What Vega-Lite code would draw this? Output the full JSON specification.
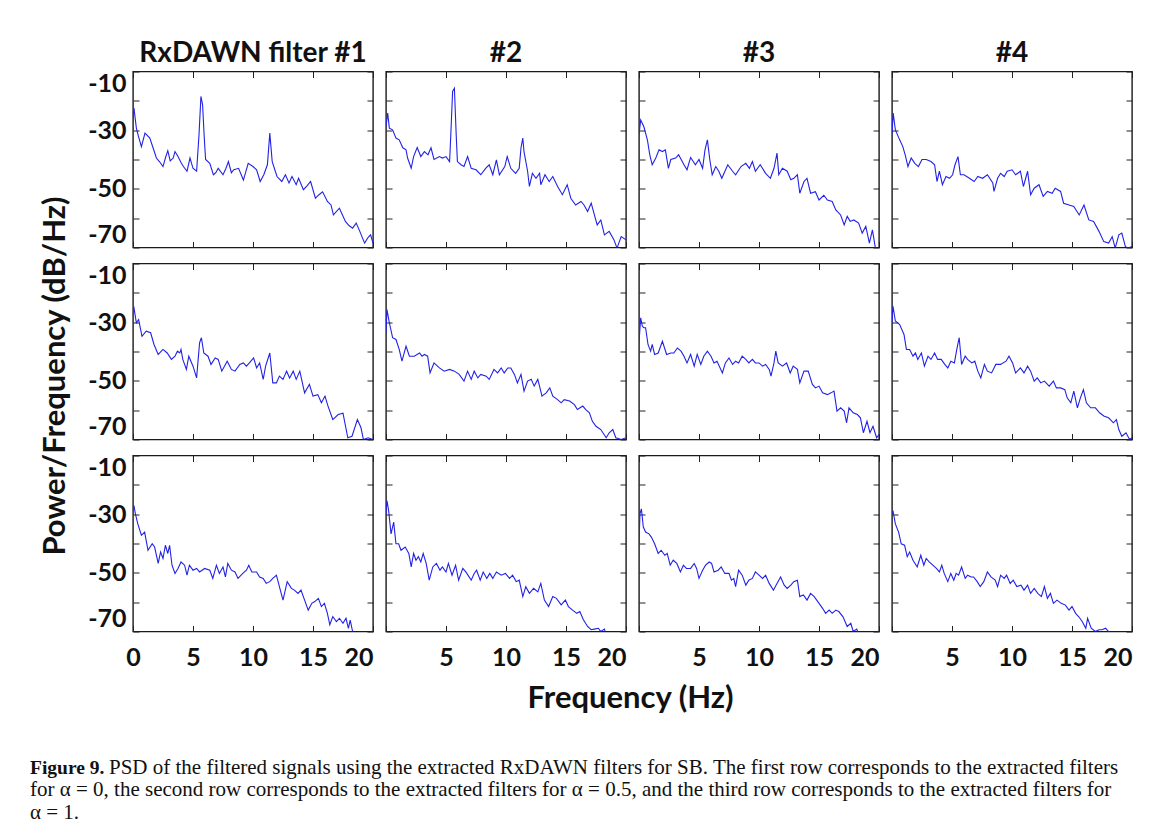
{
"$schema": "https://vega.github.io/schema/vega-lite/v6.json",
"background": "white",
"padding": {"left": 30, "top": 38.5, "right": 5, "bottom": 0},
"data": {"values": [
{"r":1,"c":1,"f":0,"v":-25.9},{"r":1,"c":1,"f":0.08,"v":-22.5},{"r":1,"c":1,"f":0.28,"v":-29.3},{"r":1,"c":1,"f":0.45,"v":-32},{"r":1,"c":1,"f":0.7,"v":-35.6},{"r":1,"c":1,"f":1.0,"v":-31},{"r":1,"c":1,"f":1.4,"v":-32.7},{"r":1,"c":1,"f":1.67,"v":-36},{"r":1,"c":1,"f":1.95,"v":-39.5},{"r":1,"c":1,"f":2.2,"v":-40.7},{"r":1,"c":1,"f":2.5,"v":-42.4},{"r":1,"c":1,"f":2.7,"v":-39.5},{"r":1,"c":1,"f":2.9,"v":-37},{"r":1,"c":1,"f":3.1,"v":-40.5},{"r":1,"c":1,"f":3.35,"v":-39.5},{"r":1,"c":1,"f":3.5,"v":-37.3},{"r":1,"c":1,"f":3.75,"v":-39},{"r":1,"c":1,"f":4.0,"v":-41},{"r":1,"c":1,"f":4.2,"v":-42.4},{"r":1,"c":1,"f":4.5,"v":-44},{"r":1,"c":1,"f":4.75,"v":-39.5},{"r":1,"c":1,"f":5.0,"v":-43},{"r":1,"c":1,"f":5.3,"v":-44},{"r":1,"c":1,"f":5.5,"v":-31.6},{"r":1,"c":1,"f":5.66,"v":-18.5},{"r":1,"c":1,"f":5.8,"v":-21.4},{"r":1,"c":1,"f":5.94,"v":-32.7},{"r":1,"c":1,"f":6.05,"v":-40},{"r":1,"c":1,"f":6.4,"v":-41.3},{"r":1,"c":1,"f":6.7,"v":-45.2},{"r":1,"c":1,"f":6.9,"v":-44.5},{"r":1,"c":1,"f":7.1,"v":-43},{"r":1,"c":1,"f":7.5,"v":-45.2},{"r":1,"c":1,"f":7.75,"v":-43},{"r":1,"c":1,"f":7.95,"v":-40.7},{"r":1,"c":1,"f":8.2,"v":-44.5},{"r":1,"c":1,"f":8.4,"v":-43.5},{"r":1,"c":1,"f":8.8,"v":-43},{"r":1,"c":1,"f":9.2,"v":-47},{"r":1,"c":1,"f":9.6,"v":-41.3},{"r":1,"c":1,"f":10.0,"v":-42.4},{"r":1,"c":1,"f":10.3,"v":-43.5},{"r":1,"c":1,"f":10.6,"v":-47.5},{"r":1,"c":1,"f":10.9,"v":-45.2},{"r":1,"c":1,"f":11.2,"v":-41.8},{"r":1,"c":1,"f":11.4,"v":-31},{"r":1,"c":1,"f":11.6,"v":-40.7},{"r":1,"c":1,"f":12.0,"v":-45.8},{"r":1,"c":1,"f":12.4,"v":-47.5},{"r":1,"c":1,"f":12.7,"v":-45.2},{"r":1,"c":1,"f":13.0,"v":-48},{"r":1,"c":1,"f":13.25,"v":-45.8},{"r":1,"c":1,"f":13.6,"v":-48.6},{"r":1,"c":1,"f":13.8,"v":-46.4},{"r":1,"c":1,"f":14.2,"v":-50.3},{"r":1,"c":1,"f":14.5,"v":-49},{"r":1,"c":1,"f":14.8,"v":-47.5},{"r":1,"c":1,"f":15.2,"v":-53.2},{"r":1,"c":1,"f":15.5,"v":-52},{"r":1,"c":1,"f":15.8,"v":-51},{"r":1,"c":1,"f":16.2,"v":-54.3},{"r":1,"c":1,"f":16.5,"v":-55.5},{"r":1,"c":1,"f":16.7,"v":-58.9},{"r":1,"c":1,"f":17.2,"v":-56.6},{"r":1,"c":1,"f":17.7,"v":-61.1},{"r":1,"c":1,"f":18.0,"v":-62.5},{"r":1,"c":1,"f":18.3,"v":-63.4},{"r":1,"c":1,"f":18.6,"v":-61.7},{"r":1,"c":1,"f":18.9,"v":-64.5},{"r":1,"c":1,"f":19.3,"v":-68.5},{"r":1,"c":1,"f":19.6,"v":-66.5},{"r":1,"c":1,"f":19.8,"v":-65.7},{"r":1,"c":1,"f":20,"v":-68.5},

{"r":1,"c":2,"f":0,"v":-28.7},{"r":1,"c":2,"f":0.14,"v":-24.2},{"r":1,"c":2,"f":0.28,"v":-29.3},{"r":1,"c":2,"f":0.55,"v":-29.9},{"r":1,"c":2,"f":0.83,"v":-32.7},{"r":1,"c":2,"f":1.1,"v":-33.3},{"r":1,"c":2,"f":1.4,"v":-36},{"r":1,"c":2,"f":1.67,"v":-36.7},{"r":1,"c":2,"f":1.8,"v":-39.5},{"r":1,"c":2,"f":2.1,"v":-43},{"r":1,"c":2,"f":2.3,"v":-39},{"r":1,"c":2,"f":2.6,"v":-35.9},{"r":1,"c":2,"f":2.9,"v":-39},{"r":1,"c":2,"f":3.2,"v":-37.3},{"r":1,"c":2,"f":3.5,"v":-38.4},{"r":1,"c":2,"f":3.75,"v":-36},{"r":1,"c":2,"f":4.0,"v":-40},{"r":1,"c":2,"f":4.45,"v":-39},{"r":1,"c":2,"f":4.7,"v":-39.5},{"r":1,"c":2,"f":5.0,"v":-39},{"r":1,"c":2,"f":5.3,"v":-40.7},{"r":1,"c":2,"f":5.4,"v":-31.6},{"r":1,"c":2,"f":5.55,"v":-16.8},{"r":1,"c":2,"f":5.7,"v":-15.7},{"r":1,"c":2,"f":5.85,"v":-31.6},{"r":1,"c":2,"f":5.95,"v":-40.7},{"r":1,"c":2,"f":6.25,"v":-41.8},{"r":1,"c":2,"f":6.5,"v":-42.4},{"r":1,"c":2,"f":6.8,"v":-39},{"r":1,"c":2,"f":7.1,"v":-43},{"r":1,"c":2,"f":7.5,"v":-43.5},{"r":1,"c":2,"f":7.9,"v":-45.2},{"r":1,"c":2,"f":8.3,"v":-43},{"r":1,"c":2,"f":8.6,"v":-41.8},{"r":1,"c":2,"f":8.9,"v":-45.2},{"r":1,"c":2,"f":9.2,"v":-40.1},{"r":1,"c":2,"f":9.45,"v":-45.2},{"r":1,"c":2,"f":9.9,"v":-42.4},{"r":1,"c":2,"f":10.1,"v":-39},{"r":1,"c":2,"f":10.4,"v":-43},{"r":1,"c":2,"f":10.8,"v":-44.7},{"r":1,"c":2,"f":11.1,"v":-43},{"r":1,"c":2,"f":11.25,"v":-36},{"r":1,"c":2,"f":11.4,"v":-32.7},{"r":1,"c":2,"f":11.5,"v":-37.3},{"r":1,"c":2,"f":11.8,"v":-44},{"r":1,"c":2,"f":11.95,"v":-49.2},{"r":1,"c":2,"f":12.2,"v":-44.7},{"r":1,"c":2,"f":12.5,"v":-46.4},{"r":1,"c":2,"f":12.8,"v":-44.7},{"r":1,"c":2,"f":12.9,"v":-48.6},{"r":1,"c":2,"f":13.25,"v":-45.2},{"r":1,"c":2,"f":13.6,"v":-47.5},{"r":1,"c":2,"f":13.9,"v":-45.8},{"r":1,"c":2,"f":14.3,"v":-49.2},{"r":1,"c":2,"f":14.7,"v":-52},{"r":1,"c":2,"f":15.1,"v":-48.6},{"r":1,"c":2,"f":15.4,"v":-53.2},{"r":1,"c":2,"f":15.8,"v":-55.5},{"r":1,"c":2,"f":16.25,"v":-54.3},{"r":1,"c":2,"f":16.5,"v":-55.5},{"r":1,"c":2,"f":16.8,"v":-57.7},{"r":1,"c":2,"f":17.1,"v":-54.9},{"r":1,"c":2,"f":17.4,"v":-59.4},{"r":1,"c":2,"f":17.6,"v":-62.3},{"r":1,"c":2,"f":17.9,"v":-60.6},{"r":1,"c":2,"f":18.2,"v":-65.7},{"r":1,"c":2,"f":18.6,"v":-64.5},{"r":1,"c":2,"f":19.0,"v":-67.4},{"r":1,"c":2,"f":19.25,"v":-70.2},{"r":1,"c":2,"f":19.6,"v":-66.3},{"r":1,"c":2,"f":20,"v":-67.4},

{"r":1,"c":3,"f":0,"v":-31.6},{"r":1,"c":3,"f":0.14,"v":-26.5},{"r":1,"c":3,"f":0.4,"v":-28.75},{"r":1,"c":3,"f":0.7,"v":-33.3},{"r":1,"c":3,"f":0.9,"v":-38.4},{"r":1,"c":3,"f":1.1,"v":-41.8},{"r":1,"c":3,"f":1.4,"v":-39.5},{"r":1,"c":3,"f":1.67,"v":-36.7},{"r":1,"c":3,"f":1.95,"v":-37.3},{"r":1,"c":3,"f":2.2,"v":-36.7},{"r":1,"c":3,"f":2.45,"v":-43},{"r":1,"c":3,"f":2.65,"v":-40},{"r":1,"c":3,"f":3.05,"v":-39.5},{"r":1,"c":3,"f":3.3,"v":-38.4},{"r":1,"c":3,"f":3.75,"v":-41.8},{"r":1,"c":3,"f":4.0,"v":-43.5},{"r":1,"c":3,"f":4.3,"v":-39.3},{"r":1,"c":3,"f":4.7,"v":-41.8},{"r":1,"c":3,"f":5.0,"v":-40},{"r":1,"c":3,"f":5.3,"v":-43},{"r":1,"c":3,"f":5.5,"v":-36.7},{"r":1,"c":3,"f":5.7,"v":-33.3},{"r":1,"c":3,"f":5.9,"v":-40},{"r":1,"c":3,"f":6.1,"v":-45.2},{"r":1,"c":3,"f":6.4,"v":-42.4},{"r":1,"c":3,"f":6.65,"v":-44},{"r":1,"c":3,"f":6.9,"v":-46.4},{"r":1,"c":3,"f":7.4,"v":-41.8},{"r":1,"c":3,"f":7.8,"v":-44},{"r":1,"c":3,"f":8.05,"v":-45.2},{"r":1,"c":3,"f":8.5,"v":-42.4},{"r":1,"c":3,"f":8.9,"v":-41.3},{"r":1,"c":3,"f":9.2,"v":-43},{"r":1,"c":3,"f":9.45,"v":-40.7},{"r":1,"c":3,"f":9.7,"v":-44},{"r":1,"c":3,"f":10.1,"v":-41.8},{"r":1,"c":3,"f":10.55,"v":-44.7},{"r":1,"c":3,"f":10.95,"v":-46.4},{"r":1,"c":3,"f":11.25,"v":-43},{"r":1,"c":3,"f":11.5,"v":-37.8},{"r":1,"c":3,"f":11.65,"v":-45.2},{"r":1,"c":3,"f":11.95,"v":-43},{"r":1,"c":3,"f":12.35,"v":-44},{"r":1,"c":3,"f":12.65,"v":-46.9},{"r":1,"c":3,"f":12.9,"v":-46.4},{"r":1,"c":3,"f":13.2,"v":-45.2},{"r":1,"c":3,"f":13.4,"v":-51.5},{"r":1,"c":3,"f":13.75,"v":-47.5},{"r":1,"c":3,"f":14.0,"v":-46.4},{"r":1,"c":3,"f":14.3,"v":-51.5},{"r":1,"c":3,"f":14.7,"v":-51},{"r":1,"c":3,"f":15.0,"v":-53.8},{"r":1,"c":3,"f":15.4,"v":-52.2},{"r":1,"c":3,"f":15.7,"v":-53.8},{"r":1,"c":3,"f":16.1,"v":-54.3},{"r":1,"c":3,"f":16.4,"v":-57.2},{"r":1,"c":3,"f":16.8,"v":-58.9},{"r":1,"c":3,"f":17.1,"v":-62.3},{"r":1,"c":3,"f":17.35,"v":-59.4},{"r":1,"c":3,"f":17.6,"v":-61.1},{"r":1,"c":3,"f":17.9,"v":-60.6},{"r":1,"c":3,"f":18.3,"v":-61.7},{"r":1,"c":3,"f":18.6,"v":-65.1},{"r":1,"c":3,"f":18.9,"v":-62.8},{"r":1,"c":3,"f":19.2,"v":-68.5},{"r":1,"c":3,"f":19.45,"v":-64},{"r":1,"c":3,"f":19.7,"v":-70.2},{"r":1,"c":3,"f":20,"v":-71},

{"r":1,"c":4,"f":0,"v":-31},{"r":1,"c":4,"f":0.1,"v":-24.2},{"r":1,"c":4,"f":0.28,"v":-29.9},{"r":1,"c":4,"f":0.64,"v":-33.3},{"r":1,"c":4,"f":0.9,"v":-35.6},{"r":1,"c":4,"f":1.1,"v":-38.4},{"r":1,"c":4,"f":1.33,"v":-42.4},{"r":1,"c":4,"f":1.6,"v":-39.5},{"r":1,"c":4,"f":1.9,"v":-41.3},{"r":1,"c":4,"f":2.2,"v":-42.4},{"r":1,"c":4,"f":2.5,"v":-40},{"r":1,"c":4,"f":2.85,"v":-40},{"r":1,"c":4,"f":3.25,"v":-40.7},{"r":1,"c":4,"f":3.55,"v":-41.8},{"r":1,"c":4,"f":3.75,"v":-47.5},{"r":1,"c":4,"f":3.95,"v":-44},{"r":1,"c":4,"f":4.2,"v":-48.6},{"r":1,"c":4,"f":4.5,"v":-45.8},{"r":1,"c":4,"f":4.8,"v":-46.4},{"r":1,"c":4,"f":5.05,"v":-45.2},{"r":1,"c":4,"f":5.25,"v":-41.8},{"r":1,"c":4,"f":5.5,"v":-39},{"r":1,"c":4,"f":5.7,"v":-45.2},{"r":1,"c":4,"f":6.0,"v":-45.2},{"r":1,"c":4,"f":6.45,"v":-46.4},{"r":1,"c":4,"f":6.85,"v":-47.5},{"r":1,"c":4,"f":7.15,"v":-45.8},{"r":1,"c":4,"f":7.55,"v":-46.4},{"r":1,"c":4,"f":7.95,"v":-45.2},{"r":1,"c":4,"f":8.4,"v":-48},{"r":1,"c":4,"f":8.5,"v":-50.9},{"r":1,"c":4,"f":8.8,"v":-46.4},{"r":1,"c":4,"f":9.05,"v":-44.7},{"r":1,"c":4,"f":9.35,"v":-45.8},{"r":1,"c":4,"f":9.6,"v":-44},{"r":1,"c":4,"f":10.0,"v":-43.5},{"r":1,"c":4,"f":10.3,"v":-45.2},{"r":1,"c":4,"f":10.7,"v":-44},{"r":1,"c":4,"f":10.95,"v":-49.2},{"r":1,"c":4,"f":11.3,"v":-44},{"r":1,"c":4,"f":11.55,"v":-52},{"r":1,"c":4,"f":11.85,"v":-49.8},{"r":1,"c":4,"f":12.25,"v":-48.6},{"r":1,"c":4,"f":12.6,"v":-52.6},{"r":1,"c":4,"f":12.95,"v":-50.9},{"r":1,"c":4,"f":13.35,"v":-51.5},{"r":1,"c":4,"f":13.6,"v":-49.8},{"r":1,"c":4,"f":14.05,"v":-50.9},{"r":1,"c":4,"f":14.3,"v":-54.9},{"r":1,"c":4,"f":14.75,"v":-55.5},{"r":1,"c":4,"f":15.15,"v":-56},{"r":1,"c":4,"f":15.6,"v":-58.9},{"r":1,"c":4,"f":16.0,"v":-55.5},{"r":1,"c":4,"f":16.4,"v":-60.6},{"r":1,"c":4,"f":16.8,"v":-61.1},{"r":1,"c":4,"f":17.25,"v":-64.5},{"r":1,"c":4,"f":17.65,"v":-68},{"r":1,"c":4,"f":18.05,"v":-68.5},{"r":1,"c":4,"f":18.35,"v":-66.3},{"r":1,"c":4,"f":18.6,"v":-70.2},{"r":1,"c":4,"f":18.9,"v":-65.7},{"r":1,"c":4,"f":19.15,"v":-65.1},{"r":1,"c":4,"f":19.45,"v":-69.7},{"r":1,"c":4,"f":19.7,"v":-70.2},{"r":1,"c":4,"f":20,"v":-69.7},

{"r":2,"c":1,"f":0,"v":-25.7},{"r":2,"c":1,"f":0.08,"v":-25.1},{"r":2,"c":1,"f":0.28,"v":-30.2},{"r":2,"c":1,"f":0.47,"v":-29.1},{"r":2,"c":1,"f":0.75,"v":-34.8},{"r":2,"c":1,"f":1.1,"v":-33.1},{"r":2,"c":1,"f":1.47,"v":-33.6},{"r":2,"c":1,"f":1.75,"v":-37.6},{"r":2,"c":1,"f":2.1,"v":-41},{"r":2,"c":1,"f":2.5,"v":-39.3},{"r":2,"c":1,"f":2.85,"v":-40.5},{"r":2,"c":1,"f":3.2,"v":-42.7},{"r":2,"c":1,"f":3.5,"v":-41.6},{"r":2,"c":1,"f":3.7,"v":-39.9},{"r":2,"c":1,"f":3.9,"v":-40.5},{"r":2,"c":1,"f":4.0,"v":-39.3},{"r":2,"c":1,"f":4.15,"v":-42.7},{"r":2,"c":1,"f":4.45,"v":-46.1},{"r":2,"c":1,"f":4.65,"v":-41.6},{"r":2,"c":1,"f":5.0,"v":-45},{"r":2,"c":1,"f":5.3,"v":-49},{"r":2,"c":1,"f":5.55,"v":-37},{"r":2,"c":1,"f":5.7,"v":-35.3},{"r":2,"c":1,"f":5.9,"v":-40.5},{"r":2,"c":1,"f":6.25,"v":-41.6},{"r":2,"c":1,"f":6.5,"v":-44.4},{"r":2,"c":1,"f":6.85,"v":-42.2},{"r":2,"c":1,"f":7.1,"v":-42.7},{"r":2,"c":1,"f":7.4,"v":-46.7},{"r":2,"c":1,"f":7.85,"v":-43.3},{"r":2,"c":1,"f":8.2,"v":-46.1},{"r":2,"c":1,"f":8.5,"v":-46.7},{"r":2,"c":1,"f":8.9,"v":-44.4},{"r":2,"c":1,"f":9.2,"v":-43.9},{"r":2,"c":1,"f":9.45,"v":-45},{"r":2,"c":1,"f":9.7,"v":-43.9},{"r":2,"c":1,"f":10.05,"v":-42.2},{"r":2,"c":1,"f":10.3,"v":-45.6},{"r":2,"c":1,"f":10.55,"v":-43.9},{"r":2,"c":1,"f":10.85,"v":-49.5},{"r":2,"c":1,"f":11.05,"v":-45},{"r":2,"c":1,"f":11.4,"v":-40.5},{"r":2,"c":1,"f":11.65,"v":-50.7},{"r":2,"c":1,"f":11.95,"v":-50.7},{"r":2,"c":1,"f":12.2,"v":-48.4},{"r":2,"c":1,"f":12.5,"v":-49.5},{"r":2,"c":1,"f":12.8,"v":-46.7},{"r":2,"c":1,"f":13.05,"v":-49},{"r":2,"c":1,"f":13.35,"v":-46.7},{"r":2,"c":1,"f":13.6,"v":-49.5},{"r":2,"c":1,"f":13.9,"v":-46.7},{"r":2,"c":1,"f":14.3,"v":-54.1},{"r":2,"c":1,"f":14.7,"v":-51.2},{"r":2,"c":1,"f":15.0,"v":-55.2},{"r":2,"c":1,"f":15.4,"v":-54.7},{"r":2,"c":1,"f":15.7,"v":-57.5},{"r":2,"c":1,"f":16.0,"v":-55.2},{"r":2,"c":1,"f":16.25,"v":-58.6},{"r":2,"c":1,"f":16.65,"v":-63.2},{"r":2,"c":1,"f":17.1,"v":-61.5},{"r":2,"c":1,"f":17.5,"v":-61},{"r":2,"c":1,"f":17.9,"v":-69.4},{"r":2,"c":1,"f":18.25,"v":-68.9},{"r":2,"c":1,"f":18.7,"v":-63.2},{"r":2,"c":1,"f":19.0,"v":-66},{"r":2,"c":1,"f":19.2,"v":-70},{"r":2,"c":1,"f":19.6,"v":-69.4},{"r":2,"c":1,"f":20,"v":-70},

{"r":2,"c":2,"f":0,"v":-33.6},{"r":2,"c":2,"f":0.08,"v":-25.7},{"r":2,"c":2,"f":0.28,"v":-30.2},{"r":2,"c":2,"f":0.55,"v":-35.3},{"r":2,"c":2,"f":0.83,"v":-35.9},{"r":2,"c":2,"f":1.1,"v":-39.3},{"r":2,"c":2,"f":1.33,"v":-43.3},{"r":2,"c":2,"f":1.67,"v":-38.2},{"r":2,"c":2,"f":1.95,"v":-41.6},{"r":2,"c":2,"f":2.35,"v":-41.6},{"r":2,"c":2,"f":2.8,"v":-40.5},{"r":2,"c":2,"f":3.0,"v":-41.6},{"r":2,"c":2,"f":3.2,"v":-41},{"r":2,"c":2,"f":3.47,"v":-41.6},{"r":2,"c":2,"f":3.67,"v":-47.3},{"r":2,"c":2,"f":4.0,"v":-43.9},{"r":2,"c":2,"f":4.45,"v":-45.6},{"r":2,"c":2,"f":4.85,"v":-46.7},{"r":2,"c":2,"f":5.3,"v":-46.1},{"r":2,"c":2,"f":5.7,"v":-46.7},{"r":2,"c":2,"f":6.1,"v":-47.8},{"r":2,"c":2,"f":6.5,"v":-50.1},{"r":2,"c":2,"f":6.8,"v":-46.7},{"r":2,"c":2,"f":7.1,"v":-49.5},{"r":2,"c":2,"f":7.35,"v":-46.7},{"r":2,"c":2,"f":7.65,"v":-49},{"r":2,"c":2,"f":7.9,"v":-47.8},{"r":2,"c":2,"f":8.35,"v":-48.4},{"r":2,"c":2,"f":8.6,"v":-49.5},{"r":2,"c":2,"f":9.0,"v":-46.1},{"r":2,"c":2,"f":9.3,"v":-47.3},{"r":2,"c":2,"f":9.6,"v":-45.6},{"r":2,"c":2,"f":9.85,"v":-47.3},{"r":2,"c":2,"f":10.15,"v":-45.6},{"r":2,"c":2,"f":10.4,"v":-45.6},{"r":2,"c":2,"f":10.7,"v":-47.8},{"r":2,"c":2,"f":10.95,"v":-50.7},{"r":2,"c":2,"f":11.25,"v":-47.8},{"r":2,"c":2,"f":11.5,"v":-53.5},{"r":2,"c":2,"f":11.8,"v":-50.1},{"r":2,"c":2,"f":12.1,"v":-49.5},{"r":2,"c":2,"f":12.35,"v":-51.8},{"r":2,"c":2,"f":12.65,"v":-49.5},{"r":2,"c":2,"f":13.0,"v":-55.2},{"r":2,"c":2,"f":13.35,"v":-54.1},{"r":2,"c":2,"f":13.65,"v":-52.4},{"r":2,"c":2,"f":13.9,"v":-55.2},{"r":2,"c":2,"f":14.3,"v":-56.4},{"r":2,"c":2,"f":14.6,"v":-57.5},{"r":2,"c":2,"f":14.85,"v":-56.4},{"r":2,"c":2,"f":15.3,"v":-56.9},{"r":2,"c":2,"f":15.7,"v":-58.1},{"r":2,"c":2,"f":15.95,"v":-59.8},{"r":2,"c":2,"f":16.4,"v":-58.6},{"r":2,"c":2,"f":16.65,"v":-59.8},{"r":2,"c":2,"f":16.95,"v":-60.9},{"r":2,"c":2,"f":17.2,"v":-63.8},{"r":2,"c":2,"f":17.5,"v":-65.5},{"r":2,"c":2,"f":17.9,"v":-66.6},{"r":2,"c":2,"f":18.35,"v":-69.4},{"r":2,"c":2,"f":18.6,"v":-67.7},{"r":2,"c":2,"f":18.9,"v":-66.6},{"r":2,"c":2,"f":19.15,"v":-69.4},{"r":2,"c":2,"f":19.6,"v":-70},{"r":2,"c":2,"f":20,"v":-69.4},

{"r":2,"c":3,"f":0,"v":-37},{"r":2,"c":3,"f":0.14,"v":-28.5},{"r":2,"c":3,"f":0.28,"v":-31.4},{"r":2,"c":3,"f":0.4,"v":-31.9},{"r":2,"c":3,"f":0.55,"v":-31.9},{"r":2,"c":3,"f":0.75,"v":-37.6},{"r":2,"c":3,"f":0.97,"v":-39.9},{"r":2,"c":3,"f":1.1,"v":-37.6},{"r":2,"c":3,"f":1.3,"v":-41},{"r":2,"c":3,"f":1.6,"v":-40.5},{"r":2,"c":3,"f":1.95,"v":-36.5},{"r":2,"c":3,"f":2.3,"v":-41},{"r":2,"c":3,"f":2.65,"v":-40.5},{"r":2,"c":3,"f":2.9,"v":-40.5},{"r":2,"c":3,"f":3.2,"v":-38.8},{"r":2,"c":3,"f":3.5,"v":-39.9},{"r":2,"c":3,"f":3.75,"v":-41.6},{"r":2,"c":3,"f":4.0,"v":-43.9},{"r":2,"c":3,"f":4.3,"v":-41},{"r":2,"c":3,"f":4.6,"v":-45},{"r":2,"c":3,"f":4.85,"v":-41},{"r":2,"c":3,"f":5.15,"v":-44.4},{"r":2,"c":3,"f":5.4,"v":-41.6},{"r":2,"c":3,"f":5.7,"v":-39.9},{"r":2,"c":3,"f":6.0,"v":-41.6},{"r":2,"c":3,"f":6.25,"v":-43.9},{"r":2,"c":3,"f":6.5,"v":-43.3},{"r":2,"c":3,"f":6.95,"v":-47.3},{"r":2,"c":3,"f":7.2,"v":-43.9},{"r":2,"c":3,"f":7.5,"v":-42.2},{"r":2,"c":3,"f":7.8,"v":-44.4},{"r":2,"c":3,"f":8.05,"v":-43.3},{"r":2,"c":3,"f":8.3,"v":-43.9},{"r":2,"c":3,"f":8.6,"v":-41.6},{"r":2,"c":3,"f":8.9,"v":-42.7},{"r":2,"c":3,"f":9.15,"v":-43.9},{"r":2,"c":3,"f":9.45,"v":-42.7},{"r":2,"c":3,"f":9.7,"v":-43.9},{"r":2,"c":3,"f":10.0,"v":-43.9},{"r":2,"c":3,"f":10.3,"v":-45},{"r":2,"c":3,"f":10.55,"v":-44.4},{"r":2,"c":3,"f":10.85,"v":-46.1},{"r":2,"c":3,"f":11.0,"v":-48.4},{"r":2,"c":3,"f":11.25,"v":-43.9},{"r":2,"c":3,"f":11.4,"v":-39.9},{"r":2,"c":3,"f":11.6,"v":-43.9},{"r":2,"c":3,"f":11.95,"v":-45},{"r":2,"c":3,"f":12.3,"v":-43.9},{"r":2,"c":3,"f":12.6,"v":-47.3},{"r":2,"c":3,"f":12.85,"v":-45},{"r":2,"c":3,"f":13.2,"v":-46.1},{"r":2,"c":3,"f":13.4,"v":-50.7},{"r":2,"c":3,"f":13.75,"v":-46.7},{"r":2,"c":3,"f":14.1,"v":-46.7},{"r":2,"c":3,"f":14.45,"v":-51.2},{"r":2,"c":3,"f":14.7,"v":-52.4},{"r":2,"c":3,"f":15.0,"v":-51.8},{"r":2,"c":3,"f":15.3,"v":-54.1},{"r":2,"c":3,"f":15.7,"v":-54.7},{"r":2,"c":3,"f":16.0,"v":-54.1},{"r":2,"c":3,"f":16.25,"v":-53.5},{"r":2,"c":3,"f":16.5,"v":-60.3},{"r":2,"c":3,"f":16.8,"v":-59.2},{"r":2,"c":3,"f":17.1,"v":-60.3},{"r":2,"c":3,"f":17.3,"v":-64.3},{"r":2,"c":3,"f":17.5,"v":-59.2},{"r":2,"c":3,"f":17.85,"v":-60.9},{"r":2,"c":3,"f":18.2,"v":-61.5},{"r":2,"c":3,"f":18.45,"v":-62.6},{"r":2,"c":3,"f":18.7,"v":-67.7},{"r":2,"c":3,"f":19.0,"v":-63.8},{"r":2,"c":3,"f":19.25,"v":-67.7},{"r":2,"c":3,"f":19.5,"v":-65.5},{"r":2,"c":3,"f":19.8,"v":-69.4},{"r":2,"c":3,"f":20,"v":-68.3},

{"r":2,"c":4,"f":0,"v":-30.2},{"r":2,"c":4,"f":0.08,"v":-24.5},{"r":2,"c":4,"f":0.28,"v":-29.6},{"r":2,"c":4,"f":0.64,"v":-30.8},{"r":2,"c":4,"f":1.0,"v":-34.2},{"r":2,"c":4,"f":1.2,"v":-39.3},{"r":2,"c":4,"f":1.47,"v":-39.3},{"r":2,"c":4,"f":1.75,"v":-41.6},{"r":2,"c":4,"f":1.95,"v":-40.5},{"r":2,"c":4,"f":2.15,"v":-42.7},{"r":2,"c":4,"f":2.45,"v":-40.5},{"r":2,"c":4,"f":2.7,"v":-45},{"r":2,"c":4,"f":3.0,"v":-41.6},{"r":2,"c":4,"f":3.25,"v":-42.7},{"r":2,"c":4,"f":3.55,"v":-40.5},{"r":2,"c":4,"f":3.8,"v":-42.7},{"r":2,"c":4,"f":4.1,"v":-42.7},{"r":2,"c":4,"f":4.4,"v":-44.4},{"r":2,"c":4,"f":4.65,"v":-45.6},{"r":2,"c":4,"f":4.9,"v":-43.3},{"r":2,"c":4,"f":5.2,"v":-43.9},{"r":2,"c":4,"f":5.4,"v":-39.3},{"r":2,"c":4,"f":5.6,"v":-35.3},{"r":2,"c":4,"f":5.8,"v":-44.4},{"r":2,"c":4,"f":6.1,"v":-41.6},{"r":2,"c":4,"f":6.3,"v":-42.7},{"r":2,"c":4,"f":6.65,"v":-43.9},{"r":2,"c":4,"f":6.9,"v":-43.3},{"r":2,"c":4,"f":7.15,"v":-46.7},{"r":2,"c":4,"f":7.4,"v":-49},{"r":2,"c":4,"f":7.7,"v":-44.4},{"r":2,"c":4,"f":7.95,"v":-46.7},{"r":2,"c":4,"f":8.3,"v":-47.3},{"r":2,"c":4,"f":8.65,"v":-44.4},{"r":2,"c":4,"f":9.05,"v":-44.4},{"r":2,"c":4,"f":9.5,"v":-43.3},{"r":2,"c":4,"f":9.75,"v":-41.6},{"r":2,"c":4,"f":10.05,"v":-43.9},{"r":2,"c":4,"f":10.3,"v":-47.3},{"r":2,"c":4,"f":10.7,"v":-45.6},{"r":2,"c":4,"f":11.0,"v":-47.3},{"r":2,"c":4,"f":11.3,"v":-45},{"r":2,"c":4,"f":11.55,"v":-46.7},{"r":2,"c":4,"f":11.85,"v":-50.1},{"r":2,"c":4,"f":12.1,"v":-49},{"r":2,"c":4,"f":12.4,"v":-50.7},{"r":2,"c":4,"f":12.7,"v":-50.1},{"r":2,"c":4,"f":13.1,"v":-51.8},{"r":2,"c":4,"f":13.45,"v":-50.1},{"r":2,"c":4,"f":13.7,"v":-52.4},{"r":2,"c":4,"f":14.05,"v":-52.4},{"r":2,"c":4,"f":14.4,"v":-53},{"r":2,"c":4,"f":14.6,"v":-55.8},{"r":2,"c":4,"f":14.9,"v":-57.5},{"r":2,"c":4,"f":15.15,"v":-53.5},{"r":2,"c":4,"f":15.45,"v":-59.2},{"r":2,"c":4,"f":15.7,"v":-55.8},{"r":2,"c":4,"f":15.95,"v":-53},{"r":2,"c":4,"f":16.2,"v":-57.5},{"r":2,"c":4,"f":16.55,"v":-59.2},{"r":2,"c":4,"f":16.95,"v":-59.2},{"r":2,"c":4,"f":17.3,"v":-60.9},{"r":2,"c":4,"f":17.65,"v":-62},{"r":2,"c":4,"f":18.05,"v":-62.6},{"r":2,"c":4,"f":18.45,"v":-64.3},{"r":2,"c":4,"f":18.7,"v":-63.2},{"r":2,"c":4,"f":18.9,"v":-66.6},{"r":2,"c":4,"f":19.15,"v":-68.9},{"r":2,"c":4,"f":19.5,"v":-67.7},{"r":2,"c":4,"f":19.8,"v":-70},{"r":2,"c":4,"f":20,"v":-69.4},

{"r":3,"c":1,"f":0,"v":-28.8},{"r":3,"c":1,"f":0.08,"v":-27.1},{"r":3,"c":1,"f":0.2,"v":-29.9},{"r":3,"c":1,"f":0.4,"v":-33.3},{"r":3,"c":1,"f":0.7,"v":-37.2},{"r":3,"c":1,"f":0.97,"v":-36.1},{"r":3,"c":1,"f":1.25,"v":-42.3},{"r":3,"c":1,"f":1.6,"v":-40.1},{"r":3,"c":1,"f":1.8,"v":-41.2},{"r":3,"c":1,"f":2.1,"v":-46.8},{"r":3,"c":1,"f":2.3,"v":-42.9},{"r":3,"c":1,"f":2.5,"v":-45.1},{"r":3,"c":1,"f":2.7,"v":-40.6},{"r":3,"c":1,"f":2.9,"v":-43.4},{"r":3,"c":1,"f":3.05,"v":-40.6},{"r":3,"c":1,"f":3.25,"v":-47.4},{"r":3,"c":1,"f":3.5,"v":-50.2},{"r":3,"c":1,"f":3.75,"v":-48.5},{"r":3,"c":1,"f":4.0,"v":-46.3},{"r":3,"c":1,"f":4.3,"v":-47.4},{"r":3,"c":1,"f":4.5,"v":-50.8},{"r":3,"c":1,"f":4.7,"v":-47.4},{"r":3,"c":1,"f":5.0,"v":-49.1},{"r":3,"c":1,"f":5.3,"v":-48.5},{"r":3,"c":1,"f":5.55,"v":-49.7},{"r":3,"c":1,"f":5.97,"v":-48.5},{"r":3,"c":1,"f":6.4,"v":-49.1},{"r":3,"c":1,"f":6.65,"v":-51.9},{"r":3,"c":1,"f":6.95,"v":-47.4},{"r":3,"c":1,"f":7.2,"v":-50.2},{"r":3,"c":1,"f":7.5,"v":-48},{"r":3,"c":1,"f":7.7,"v":-51.4},{"r":3,"c":1,"f":7.9,"v":-46.8},{"r":3,"c":1,"f":8.2,"v":-49.1},{"r":3,"c":1,"f":8.5,"v":-49.7},{"r":3,"c":1,"f":8.75,"v":-51.9},{"r":3,"c":1,"f":9.15,"v":-50.2},{"r":3,"c":1,"f":9.45,"v":-49.1},{"r":3,"c":1,"f":9.65,"v":-47.4},{"r":3,"c":1,"f":9.9,"v":-49.7},{"r":3,"c":1,"f":10.3,"v":-49.7},{"r":3,"c":1,"f":10.55,"v":-51.4},{"r":3,"c":1,"f":10.85,"v":-51.9},{"r":3,"c":1,"f":11.1,"v":-53.6},{"r":3,"c":1,"f":11.4,"v":-53},{"r":3,"c":1,"f":11.65,"v":-51.9},{"r":3,"c":1,"f":11.95,"v":-50.8},{"r":3,"c":1,"f":12.2,"v":-54.7},{"r":3,"c":1,"f":12.5,"v":-59.3},{"r":3,"c":1,"f":12.85,"v":-53},{"r":3,"c":1,"f":13.2,"v":-55.3},{"r":3,"c":1,"f":13.45,"v":-55.9},{"r":3,"c":1,"f":13.75,"v":-57},{"r":3,"c":1,"f":14.0,"v":-55.9},{"r":3,"c":1,"f":14.3,"v":-59.3},{"r":3,"c":1,"f":14.6,"v":-62.7},{"r":3,"c":1,"f":14.9,"v":-60.4},{"r":3,"c":1,"f":15.15,"v":-59.8},{"r":3,"c":1,"f":15.45,"v":-58.7},{"r":3,"c":1,"f":15.7,"v":-61.5},{"r":3,"c":1,"f":15.95,"v":-60.4},{"r":3,"c":1,"f":16.2,"v":-63.8},{"r":3,"c":1,"f":16.4,"v":-67.7},{"r":3,"c":1,"f":16.65,"v":-64.9},{"r":3,"c":1,"f":16.95,"v":-66.6},{"r":3,"c":1,"f":17.2,"v":-65.5},{"r":3,"c":1,"f":17.5,"v":-67.2},{"r":3,"c":1,"f":17.75,"v":-65.5},{"r":3,"c":1,"f":17.95,"v":-68.9},{"r":3,"c":1,"f":18.1,"v":-66.1},{"r":3,"c":1,"f":18.3,"v":-70},{"r":3,"c":1,"f":18.4,"v":-72},

{"r":3,"c":2,"f":0,"v":-29.9},{"r":3,"c":2,"f":0.08,"v":-25.4},{"r":3,"c":2,"f":0.22,"v":-28.8},{"r":3,"c":2,"f":0.42,"v":-36.7},{"r":3,"c":2,"f":0.64,"v":-32.7},{"r":3,"c":2,"f":0.83,"v":-40.1},{"r":3,"c":2,"f":1.05,"v":-40.1},{"r":3,"c":2,"f":1.25,"v":-42.3},{"r":3,"c":2,"f":1.6,"v":-41.2},{"r":3,"c":2,"f":1.9,"v":-43.4},{"r":3,"c":2,"f":2.1,"v":-48},{"r":3,"c":2,"f":2.3,"v":-43.4},{"r":3,"c":2,"f":2.5,"v":-45.7},{"r":3,"c":2,"f":2.7,"v":-44.5},{"r":3,"c":2,"f":2.9,"v":-46.3},{"r":3,"c":2,"f":3.1,"v":-43.4},{"r":3,"c":2,"f":3.35,"v":-46.8},{"r":3,"c":2,"f":3.6,"v":-52.5},{"r":3,"c":2,"f":3.9,"v":-48},{"r":3,"c":2,"f":4.2,"v":-46.8},{"r":3,"c":2,"f":4.5,"v":-49.1},{"r":3,"c":2,"f":4.7,"v":-48},{"r":3,"c":2,"f":5.0,"v":-49.7},{"r":3,"c":2,"f":5.2,"v":-46.8},{"r":3,"c":2,"f":5.5,"v":-50.8},{"r":3,"c":2,"f":5.8,"v":-47.4},{"r":3,"c":2,"f":6.05,"v":-52.5},{"r":3,"c":2,"f":6.4,"v":-48.5},{"r":3,"c":2,"f":6.65,"v":-49.7},{"r":3,"c":2,"f":7.1,"v":-52.5},{"r":3,"c":2,"f":7.35,"v":-50.2},{"r":3,"c":2,"f":7.55,"v":-49.1},{"r":3,"c":2,"f":7.85,"v":-52.5},{"r":3,"c":2,"f":8.1,"v":-49.7},{"r":3,"c":2,"f":8.4,"v":-51.9},{"r":3,"c":2,"f":8.65,"v":-50.2},{"r":3,"c":2,"f":8.9,"v":-51.9},{"r":3,"c":2,"f":9.2,"v":-49.7},{"r":3,"c":2,"f":9.6,"v":-50.8},{"r":3,"c":2,"f":9.95,"v":-50.2},{"r":3,"c":2,"f":10.3,"v":-51.9},{"r":3,"c":2,"f":10.55,"v":-50.8},{"r":3,"c":2,"f":10.85,"v":-53},{"r":3,"c":2,"f":11.1,"v":-52.5},{"r":3,"c":2,"f":11.4,"v":-58.1},{"r":3,"c":2,"f":11.65,"v":-54.7},{"r":3,"c":2,"f":11.95,"v":-57},{"r":3,"c":2,"f":12.3,"v":-55.3},{"r":3,"c":2,"f":12.65,"v":-56.5},{"r":3,"c":2,"f":12.9,"v":-53.6},{"r":3,"c":2,"f":13.2,"v":-59.3},{"r":3,"c":2,"f":13.55,"v":-61.5},{"r":3,"c":2,"f":13.9,"v":-58.1},{"r":3,"c":2,"f":14.2,"v":-58.7},{"r":3,"c":2,"f":14.6,"v":-60.9},{"r":3,"c":2,"f":14.95,"v":-59.3},{"r":3,"c":2,"f":15.2,"v":-61.5},{"r":3,"c":2,"f":15.55,"v":-62.7},{"r":3,"c":2,"f":15.9,"v":-63.8},{"r":3,"c":2,"f":16.15,"v":-63.2},{"r":3,"c":2,"f":16.45,"v":-66},{"r":3,"c":2,"f":16.8,"v":-68.3},{"r":3,"c":2,"f":17.1,"v":-69.4},{"r":3,"c":2,"f":17.35,"v":-69.2},{"r":3,"c":2,"f":17.7,"v":-68.9},{"r":3,"c":2,"f":17.9,"v":-70},{"r":3,"c":2,"f":18.2,"v":-69.2},{"r":3,"c":2,"f":18.35,"v":-71},

{"r":3,"c":3,"f":0,"v":-40},{"r":3,"c":3,"f":0.08,"v":-29.9},{"r":3,"c":3,"f":0.2,"v":-28.2},{"r":3,"c":3,"f":0.36,"v":-34.4},{"r":3,"c":3,"f":0.55,"v":-36.1},{"r":3,"c":3,"f":0.83,"v":-36.7},{"r":3,"c":3,"f":1.03,"v":-37.8},{"r":3,"c":3,"f":1.3,"v":-40.1},{"r":3,"c":3,"f":1.6,"v":-43.4},{"r":3,"c":3,"f":1.85,"v":-42.3},{"r":3,"c":3,"f":2.15,"v":-44},{"r":3,"c":3,"f":2.35,"v":-43.4},{"r":3,"c":3,"f":2.6,"v":-47.4},{"r":3,"c":3,"f":2.85,"v":-45.7},{"r":3,"c":3,"f":3.15,"v":-46.8},{"r":3,"c":3,"f":3.45,"v":-49.7},{"r":3,"c":3,"f":3.7,"v":-47.4},{"r":3,"c":3,"f":3.95,"v":-48.5},{"r":3,"c":3,"f":4.3,"v":-48.5},{"r":3,"c":3,"f":4.6,"v":-46.8},{"r":3,"c":3,"f":4.8,"v":-48.5},{"r":3,"c":3,"f":5.0,"v":-51.9},{"r":3,"c":3,"f":5.3,"v":-49.1},{"r":3,"c":3,"f":5.55,"v":-47.4},{"r":3,"c":3,"f":5.85,"v":-46.3},{"r":3,"c":3,"f":6.05,"v":-46.8},{"r":3,"c":3,"f":6.25,"v":-49.7},{"r":3,"c":3,"f":6.6,"v":-49.1},{"r":3,"c":3,"f":6.85,"v":-48},{"r":3,"c":3,"f":7.15,"v":-50.2},{"r":3,"c":3,"f":7.5,"v":-50.2},{"r":3,"c":3,"f":7.7,"v":-52.5},{"r":3,"c":3,"f":7.9,"v":-51.9},{"r":3,"c":3,"f":8.05,"v":-54.7},{"r":3,"c":3,"f":8.3,"v":-49.1},{"r":3,"c":3,"f":8.6,"v":-50.8},{"r":3,"c":3,"f":8.9,"v":-54.2},{"r":3,"c":3,"f":9.15,"v":-52.5},{"r":3,"c":3,"f":9.45,"v":-51.9},{"r":3,"c":3,"f":9.7,"v":-49.7},{"r":3,"c":3,"f":10.0,"v":-50.8},{"r":3,"c":3,"f":10.3,"v":-51.9},{"r":3,"c":3,"f":10.55,"v":-50.8},{"r":3,"c":3,"f":10.85,"v":-53.6},{"r":3,"c":3,"f":11.2,"v":-55.9},{"r":3,"c":3,"f":11.5,"v":-53.6},{"r":3,"c":3,"f":11.8,"v":-51.4},{"r":3,"c":3,"f":12.1,"v":-54.2},{"r":3,"c":3,"f":12.35,"v":-55.3},{"r":3,"c":3,"f":12.65,"v":-54.2},{"r":3,"c":3,"f":12.9,"v":-53},{"r":3,"c":3,"f":13.2,"v":-52.5},{"r":3,"c":3,"f":13.4,"v":-58.1},{"r":3,"c":3,"f":13.7,"v":-57.5},{"r":3,"c":3,"f":14.0,"v":-59.3},{"r":3,"c":3,"f":14.3,"v":-57},{"r":3,"c":3,"f":14.6,"v":-58.1},{"r":3,"c":3,"f":14.9,"v":-59.8},{"r":3,"c":3,"f":15.3,"v":-62.1},{"r":3,"c":3,"f":15.55,"v":-63.8},{"r":3,"c":3,"f":15.85,"v":-62.7},{"r":3,"c":3,"f":16.1,"v":-63.8},{"r":3,"c":3,"f":16.4,"v":-62.7},{"r":3,"c":3,"f":16.65,"v":-63.2},{"r":3,"c":3,"f":17.0,"v":-65},{"r":3,"c":3,"f":17.35,"v":-68.3},{"r":3,"c":3,"f":17.65,"v":-67.2},{"r":3,"c":3,"f":17.85,"v":-70},{"r":3,"c":3,"f":18.15,"v":-69.2},{"r":3,"c":3,"f":18.3,"v":-71},

{"r":3,"c":4,"f":0,"v":-29.9},{"r":3,"c":4,"f":0.08,"v":-28.8},{"r":3,"c":4,"f":0.28,"v":-33.3},{"r":3,"c":4,"f":0.55,"v":-36.1},{"r":3,"c":4,"f":0.77,"v":-40.1},{"r":3,"c":4,"f":1.05,"v":-40.6},{"r":3,"c":4,"f":1.27,"v":-44.5},{"r":3,"c":4,"f":1.47,"v":-42.9},{"r":3,"c":4,"f":1.75,"v":-45.7},{"r":3,"c":4,"f":2.1,"v":-48},{"r":3,"c":4,"f":2.4,"v":-44},{"r":3,"c":4,"f":2.65,"v":-47.4},{"r":3,"c":4,"f":2.85,"v":-45.1},{"r":3,"c":4,"f":3.1,"v":-46.3},{"r":3,"c":4,"f":3.4,"v":-47.4},{"r":3,"c":4,"f":3.7,"v":-48.5},{"r":3,"c":4,"f":3.95,"v":-49.7},{"r":3,"c":4,"f":4.15,"v":-47.4},{"r":3,"c":4,"f":4.35,"v":-50.2},{"r":3,"c":4,"f":4.65,"v":-53},{"r":3,"c":4,"f":4.9,"v":-50.2},{"r":3,"c":4,"f":5.15,"v":-52.5},{"r":3,"c":4,"f":5.35,"v":-50.2},{"r":3,"c":4,"f":5.55,"v":-50.8},{"r":3,"c":4,"f":5.8,"v":-48},{"r":3,"c":4,"f":6.1,"v":-51.9},{"r":3,"c":4,"f":6.3,"v":-50.8},{"r":3,"c":4,"f":6.6,"v":-51.4},{"r":3,"c":4,"f":6.8,"v":-51.4},{"r":3,"c":4,"f":7.1,"v":-53},{"r":3,"c":4,"f":7.35,"v":-54.7},{"r":3,"c":4,"f":7.65,"v":-53},{"r":3,"c":4,"f":7.95,"v":-49.7},{"r":3,"c":4,"f":8.25,"v":-51.4},{"r":3,"c":4,"f":8.6,"v":-52.5},{"r":3,"c":4,"f":8.8,"v":-54.7},{"r":3,"c":4,"f":9.05,"v":-50.8},{"r":3,"c":4,"f":9.35,"v":-51.9},{"r":3,"c":4,"f":9.55,"v":-50.8},{"r":3,"c":4,"f":9.85,"v":-53.6},{"r":3,"c":4,"f":10.1,"v":-52.5},{"r":3,"c":4,"f":10.4,"v":-54.7},{"r":3,"c":4,"f":10.75,"v":-54.2},{"r":3,"c":4,"f":11.0,"v":-55.9},{"r":3,"c":4,"f":11.3,"v":-54.2},{"r":3,"c":4,"f":11.55,"v":-57},{"r":3,"c":4,"f":11.85,"v":-55.3},{"r":3,"c":4,"f":12.15,"v":-57},{"r":3,"c":4,"f":12.45,"v":-58.1},{"r":3,"c":4,"f":12.7,"v":-54.7},{"r":3,"c":4,"f":12.95,"v":-58.7},{"r":3,"c":4,"f":13.2,"v":-57},{"r":3,"c":4,"f":13.45,"v":-60.4},{"r":3,"c":4,"f":13.75,"v":-59.3},{"r":3,"c":4,"f":14.1,"v":-60.4},{"r":3,"c":4,"f":14.45,"v":-61},{"r":3,"c":4,"f":14.75,"v":-62.7},{"r":3,"c":4,"f":15.0,"v":-61.5},{"r":3,"c":4,"f":15.3,"v":-63.8},{"r":3,"c":4,"f":15.55,"v":-64.9},{"r":3,"c":4,"f":15.85,"v":-66.6},{"r":3,"c":4,"f":16.15,"v":-68.9},{"r":3,"c":4,"f":16.3,"v":-65.5},{"r":3,"c":4,"f":16.6,"v":-68.9},{"r":3,"c":4,"f":16.95,"v":-70},{"r":3,"c":4,"f":17.25,"v":-69.4},{"r":3,"c":4,"f":17.5,"v":-69.4},{"r":3,"c":4,"f":17.8,"v":-68.9},{"r":3,"c":4,"f":18.05,"v":-70},{"r":3,"c":4,"f":18.25,"v":-71}
]},
"vconcat": [
{
"columns": 4,
"spacing": {"row": 16, "column": 13},
"bounds": "flush",
"concat": [
{"width":240,"height":176,"title":{"text":"RxDAWN filter #1"},"transform":[{"filter":"datum.r==1 && datum.c==1"}],
 "layer":[
  {"mark":{"type":"line","color":"#2222e6","strokeWidth":1.1,"clip":true},
   "encoding":{"x":{"field":"f","type":"quantitative","scale":{"domain":[0,20],"nice":false},"axis":{"values":[0,5,10,15,20],"labels":false,"title":null}},
     "y":{"field":"v","type":"quantitative","scale":{"domain":[-70,-10],"nice":false},"axis":{"values":[-70,-60,-50,-40,-30,-20,-10],"labelExpr":"(datum.value+10)%20==0 ? ''+datum.value : ''","labelFlush":true,"labelPadding":13,"title":null}}}},
  {"mark":{"type":"line","strokeOpacity":0},
   "encoding":{"x":{"field":"f","type":"quantitative","axis":{"orient":"top","values":[0,5,10,15,20],"labels":false,"title":null}},
     "y":{"field":"v","type":"quantitative","axis":{"orient":"right","values":[-70,-60,-50,-40,-30,-20,-10],"labels":false,"title":null}}}}],
 "resolve":{"axis":{"x":"independent","y":"independent"}}},
{"width":240,"height":176,"title":{"text":"#2"},"transform":[{"filter":"datum.r==1 && datum.c==2"}],
 "layer":[
  {"mark":{"type":"line","color":"#2222e6","strokeWidth":1.1,"clip":true},
   "encoding":{"x":{"field":"f","type":"quantitative","scale":{"domain":[0,20],"nice":false},"axis":{"values":[0,5,10,15,20],"labels":false,"title":null}},
     "y":{"field":"v","type":"quantitative","scale":{"domain":[-70,-10],"nice":false},"axis":{"values":[-70,-60,-50,-40,-30,-20,-10],"labels":false,"title":null}}}},
  {"mark":{"type":"line","strokeOpacity":0},
   "encoding":{"x":{"field":"f","type":"quantitative","axis":{"orient":"top","values":[0,5,10,15,20],"labels":false,"title":null}},
     "y":{"field":"v","type":"quantitative","axis":{"orient":"right","values":[-70,-60,-50,-40,-30,-20,-10],"labels":false,"title":null}}}}],
 "resolve":{"axis":{"x":"independent","y":"independent"}}},
{"width":240,"height":176,"title":{"text":"#3"},"transform":[{"filter":"datum.r==1 && datum.c==3"}],
 "layer":[
  {"mark":{"type":"line","color":"#2222e6","strokeWidth":1.1,"clip":true},
   "encoding":{"x":{"field":"f","type":"quantitative","scale":{"domain":[0,20],"nice":false},"axis":{"values":[0,5,10,15,20],"labels":false,"title":null}},
     "y":{"field":"v","type":"quantitative","scale":{"domain":[-70,-10],"nice":false},"axis":{"values":[-70,-60,-50,-40,-30,-20,-10],"labels":false,"title":null}}}},
  {"mark":{"type":"line","strokeOpacity":0},
   "encoding":{"x":{"field":"f","type":"quantitative","axis":{"orient":"top","values":[0,5,10,15,20],"labels":false,"title":null}},
     "y":{"field":"v","type":"quantitative","axis":{"orient":"right","values":[-70,-60,-50,-40,-30,-20,-10],"labels":false,"title":null}}}}],
 "resolve":{"axis":{"x":"independent","y":"independent"}}},
{"width":240,"height":176,"title":{"text":"#4"},"transform":[{"filter":"datum.r==1 && datum.c==4"}],
 "layer":[
  {"mark":{"type":"line","color":"#2222e6","strokeWidth":1.1,"clip":true},
   "encoding":{"x":{"field":"f","type":"quantitative","scale":{"domain":[0,20],"nice":false},"axis":{"values":[0,5,10,15,20],"labels":false,"title":null}},
     "y":{"field":"v","type":"quantitative","scale":{"domain":[-70,-10],"nice":false},"axis":{"values":[-70,-60,-50,-40,-30,-20,-10],"labels":false,"title":null}}}},
  {"mark":{"type":"line","strokeOpacity":0},
   "encoding":{"x":{"field":"f","type":"quantitative","axis":{"orient":"top","values":[0,5,10,15,20],"labels":false,"title":null}},
     "y":{"field":"v","type":"quantitative","axis":{"orient":"right","values":[-70,-60,-50,-40,-30,-20,-10],"labels":false,"title":null}}}}],
 "resolve":{"axis":{"x":"independent","y":"independent"}}},

{"width":240,"height":176,"transform":[{"filter":"datum.r==2 && datum.c==1"}],
 "layer":[
  {"mark":{"type":"line","color":"#2222e6","strokeWidth":1.1,"clip":true},
   "encoding":{"x":{"field":"f","type":"quantitative","scale":{"domain":[0,20],"nice":false},"axis":{"values":[0,5,10,15,20],"labels":false,"title":null}},
     "y":{"field":"v","type":"quantitative","scale":{"domain":[-70,-10],"nice":false},"axis":{"values":[-70,-60,-50,-40,-30,-20,-10],"labelExpr":"(datum.value+10)%20==0 ? ''+datum.value : ''","labelFlush":true,"labelPadding":13,"title":"Power/Frequency (dB/Hz)","titleY":112,"titlePadding":16}}}},
  {"mark":{"type":"line","strokeOpacity":0},
   "encoding":{"x":{"field":"f","type":"quantitative","axis":{"orient":"top","values":[0,5,10,15,20],"labels":false,"title":null}},
     "y":{"field":"v","type":"quantitative","axis":{"orient":"right","values":[-70,-60,-50,-40,-30,-20,-10],"labels":false,"title":null}}}}],
 "resolve":{"axis":{"x":"independent","y":"independent"}}},
{"width":240,"height":176,"transform":[{"filter":"datum.r==2 && datum.c==2"}],
 "layer":[
  {"mark":{"type":"line","color":"#2222e6","strokeWidth":1.1,"clip":true},
   "encoding":{"x":{"field":"f","type":"quantitative","scale":{"domain":[0,20],"nice":false},"axis":{"values":[0,5,10,15,20],"labels":false,"title":null}},
     "y":{"field":"v","type":"quantitative","scale":{"domain":[-70,-10],"nice":false},"axis":{"values":[-70,-60,-50,-40,-30,-20,-10],"labels":false,"title":null}}}},
  {"mark":{"type":"line","strokeOpacity":0},
   "encoding":{"x":{"field":"f","type":"quantitative","axis":{"orient":"top","values":[0,5,10,15,20],"labels":false,"title":null}},
     "y":{"field":"v","type":"quantitative","axis":{"orient":"right","values":[-70,-60,-50,-40,-30,-20,-10],"labels":false,"title":null}}}}],
 "resolve":{"axis":{"x":"independent","y":"independent"}}},
{"width":240,"height":176,"transform":[{"filter":"datum.r==2 && datum.c==3"}],
 "layer":[
  {"mark":{"type":"line","color":"#2222e6","strokeWidth":1.1,"clip":true},
   "encoding":{"x":{"field":"f","type":"quantitative","scale":{"domain":[0,20],"nice":false},"axis":{"values":[0,5,10,15,20],"labels":false,"title":null}},
     "y":{"field":"v","type":"quantitative","scale":{"domain":[-70,-10],"nice":false},"axis":{"values":[-70,-60,-50,-40,-30,-20,-10],"labels":false,"title":null}}}},
  {"mark":{"type":"line","strokeOpacity":0},
   "encoding":{"x":{"field":"f","type":"quantitative","axis":{"orient":"top","values":[0,5,10,15,20],"labels":false,"title":null}},
     "y":{"field":"v","type":"quantitative","axis":{"orient":"right","values":[-70,-60,-50,-40,-30,-20,-10],"labels":false,"title":null}}}}],
 "resolve":{"axis":{"x":"independent","y":"independent"}}},
{"width":240,"height":176,"transform":[{"filter":"datum.r==2 && datum.c==4"}],
 "layer":[
  {"mark":{"type":"line","color":"#2222e6","strokeWidth":1.1,"clip":true},
   "encoding":{"x":{"field":"f","type":"quantitative","scale":{"domain":[0,20],"nice":false},"axis":{"values":[0,5,10,15,20],"labels":false,"title":null}},
     "y":{"field":"v","type":"quantitative","scale":{"domain":[-70,-10],"nice":false},"axis":{"values":[-70,-60,-50,-40,-30,-20,-10],"labels":false,"title":null}}}},
  {"mark":{"type":"line","strokeOpacity":0},
   "encoding":{"x":{"field":"f","type":"quantitative","axis":{"orient":"top","values":[0,5,10,15,20],"labels":false,"title":null}},
     "y":{"field":"v","type":"quantitative","axis":{"orient":"right","values":[-70,-60,-50,-40,-30,-20,-10],"labels":false,"title":null}}}}],
 "resolve":{"axis":{"x":"independent","y":"independent"}}},

{"width":240,"height":176,"transform":[{"filter":"datum.r==3 && datum.c==1"}],
 "layer":[
  {"mark":{"type":"line","color":"#2222e6","strokeWidth":1.1,"clip":true},
   "encoding":{"x":{"field":"f","type":"quantitative","scale":{"domain":[0,20],"nice":false},"axis":{"values":[0,5,10,15,20],"labelAlign":{"condition":{"test":"datum.value == 20","value":"right"},"value":"center"},"labelPadding":20,"title":null}},
     "y":{"field":"v","type":"quantitative","scale":{"domain":[-70,-10],"nice":false},"axis":{"values":[-70,-60,-50,-40,-30,-20,-10],"labelExpr":"(datum.value+10)%20==0 ? ''+datum.value : ''","labelFlush":true,"labelPadding":13,"title":null}}}},
  {"mark":{"type":"line","strokeOpacity":0},
   "encoding":{"x":{"field":"f","type":"quantitative","axis":{"orient":"top","values":[0,5,10,15,20],"labels":false,"title":null}},
     "y":{"field":"v","type":"quantitative","axis":{"orient":"right","values":[-70,-60,-50,-40,-30,-20,-10],"labels":false,"title":null}}}}],
 "resolve":{"axis":{"x":"independent","y":"independent"}}},
{"width":240,"height":176,"transform":[{"filter":"datum.r==3 && datum.c==2"}],
 "layer":[
  {"mark":{"type":"line","color":"#2222e6","strokeWidth":1.1,"clip":true},
   "encoding":{"x":{"field":"f","type":"quantitative","scale":{"domain":[0,20],"nice":false},"axis":{"values":[0,5,10,15,20],"labelExpr":"datum.value==0 ? '' : datum.label","labelFlush":true,"labelPadding":20,"title":"Frequency (Hz)","titleX":244,"titlePadding":13}},
     "y":{"field":"v","type":"quantitative","scale":{"domain":[-70,-10],"nice":false},"axis":{"values":[-70,-60,-50,-40,-30,-20,-10],"labels":false,"title":null}}}},
  {"mark":{"type":"line","strokeOpacity":0},
   "encoding":{"x":{"field":"f","type":"quantitative","axis":{"orient":"top","values":[0,5,10,15,20],"labels":false,"title":null}},
     "y":{"field":"v","type":"quantitative","axis":{"orient":"right","values":[-70,-60,-50,-40,-30,-20,-10],"labels":false,"title":null}}}}],
 "resolve":{"axis":{"x":"independent","y":"independent"}}},
{"width":240,"height":176,"transform":[{"filter":"datum.r==3 && datum.c==3"}],
 "layer":[
  {"mark":{"type":"line","color":"#2222e6","strokeWidth":1.1,"clip":true},
   "encoding":{"x":{"field":"f","type":"quantitative","scale":{"domain":[0,20],"nice":false},"axis":{"values":[0,5,10,15,20],"labelExpr":"datum.value==0 ? '' : datum.label","labelFlush":true,"labelPadding":20,"title":null}},
     "y":{"field":"v","type":"quantitative","scale":{"domain":[-70,-10],"nice":false},"axis":{"values":[-70,-60,-50,-40,-30,-20,-10],"labels":false,"title":null}}}},
  {"mark":{"type":"line","strokeOpacity":0},
   "encoding":{"x":{"field":"f","type":"quantitative","axis":{"orient":"top","values":[0,5,10,15,20],"labels":false,"title":null}},
     "y":{"field":"v","type":"quantitative","axis":{"orient":"right","values":[-70,-60,-50,-40,-30,-20,-10],"labels":false,"title":null}}}}],
 "resolve":{"axis":{"x":"independent","y":"independent"}}},
{"width":240,"height":176,"transform":[{"filter":"datum.r==3 && datum.c==4"}],
 "layer":[
  {"mark":{"type":"line","color":"#2222e6","strokeWidth":1.1,"clip":true},
   "encoding":{"x":{"field":"f","type":"quantitative","scale":{"domain":[0,20],"nice":false},"axis":{"values":[0,5,10,15,20],"labelExpr":"datum.value==0 ? '' : datum.label","labelFlush":true,"labelPadding":20,"title":null}},
     "y":{"field":"v","type":"quantitative","scale":{"domain":[-70,-10],"nice":false},"axis":{"values":[-70,-60,-50,-40,-30,-20,-10],"labels":false,"title":null}}}},
  {"mark":{"type":"line","strokeOpacity":0},
   "encoding":{"x":{"field":"f","type":"quantitative","axis":{"orient":"top","values":[0,5,10,15,20],"labels":false,"title":null}},
     "y":{"field":"v","type":"quantitative","axis":{"orient":"right","values":[-70,-60,-50,-40,-30,-20,-10],"labels":false,"title":null}}}}],
 "resolve":{"axis":{"x":"independent","y":"independent"}}}
]
},
{
"width": 1,
"height": 67.5,
"view": {"stroke": null},
"data": {"values": [
 {"l":1,"t":"Figure 9.","w":"bold"},
 {"l":1,"t":"PSD of the filtered signals using the extracted RxDAWN filters for SB. The first row corresponds to the extracted filters","w":"normal"},
 {"l":2,"t":"for α = 0, the second row corresponds to the extracted filters for α = 0.5, and the third row corresponds to the extracted filters for","w":"normal"},
 {"l":3,"t":"α = 1.","w":"normal"}
]},
"layer": [
 {"transform":[{"filter":"datum.w=='bold'"}],
  "mark":{"type":"text","font":"Liberation Serif","fontSize":19.5,"fontWeight":"bold","align":"left","baseline":"alphabetic","color":"#111","dx":-103.5},
  "encoding":{"y":{"field":"l","type":"ordinal","axis":null,"scale":{"type":"point"}},"text":{"field":"t"}}},
 {"transform":[{"filter":"datum.w=='normal' && datum.l==1"}],
  "mark":{"type":"text","font":"Liberation Serif","fontSize":21,"align":"left","baseline":"alphabetic","color":"#111","dx":-24.5},
  "encoding":{"y":{"field":"l","type":"ordinal","axis":null,"scale":{"type":"point"}},"text":{"field":"t"}}},
 {"transform":[{"filter":"datum.w=='normal' && datum.l>1"}],
  "mark":{"type":"text","font":"Liberation Serif","fontSize":21,"align":"left","baseline":"alphabetic","color":"#111","dx":-103.5},
  "encoding":{"y":{"field":"l","type":"ordinal","axis":null,"scale":{"type":"point"}},"text":{"field":"t"}}}
]
}
],
"spacing": 42,
"config": {
 "view": {"stroke": "#1a1a1a", "strokeWidth": 1.4},
 "font": "Lato",
 "axis": {"domain": false, "grid": false, "ticks": true, "tickColor": "#222", "tickSize": -6, "tickWidth": 1,
          "labelFont": "Lato", "labelFontWeight": "bold", "labelFontSize": 25, "labelColor": "#111",
          "titleFont": "Lato", "titleFontWeight": "bold", "titleFontSize": 31, "titleColor": "#111"},
 "title": {"font": "Lato", "fontWeight": "bold", "fontSize": 28, "color": "#111", "offset": 3}
}
}
